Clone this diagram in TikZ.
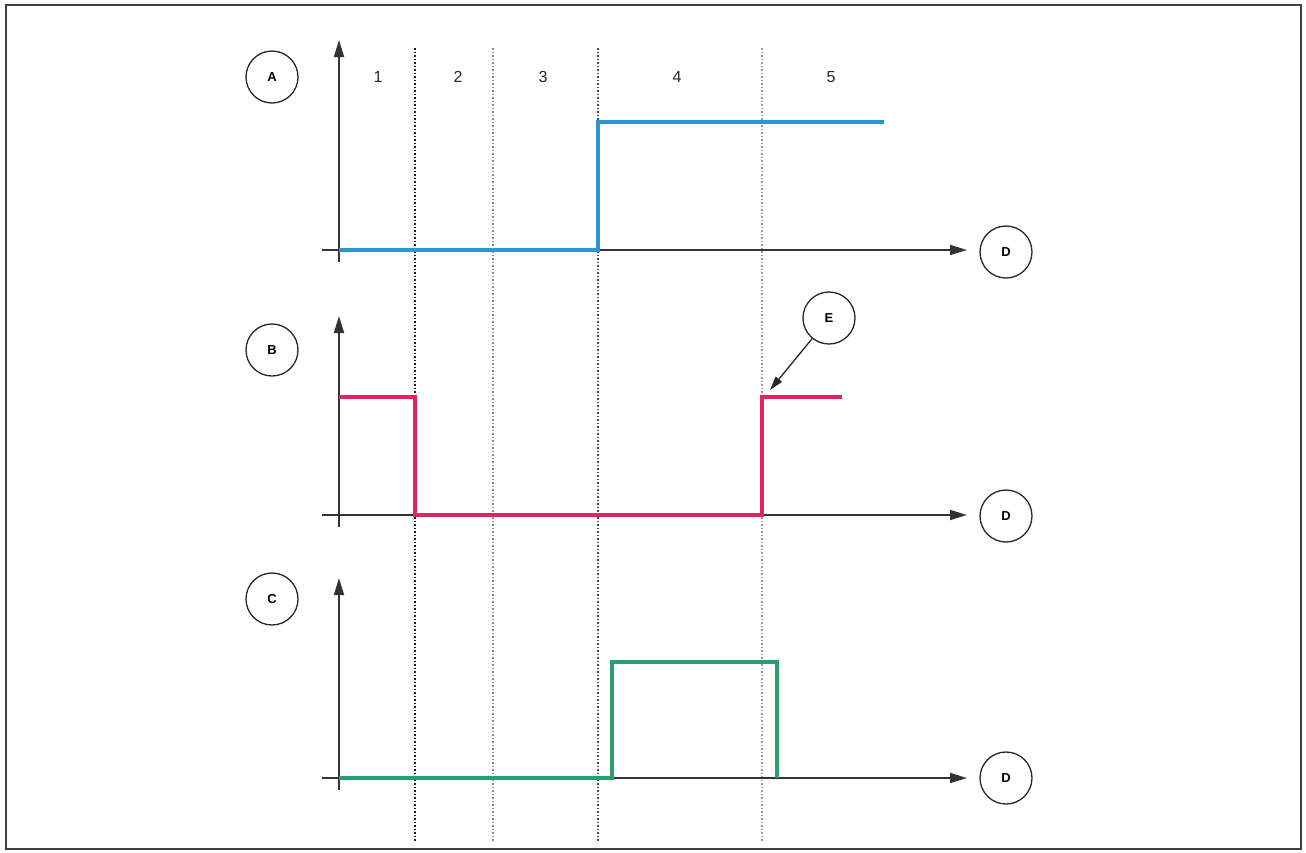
\documentclass[tikz,border=0pt]{standalone}
\usepackage{fontspec}
\setmainfont{Liberation Sans}
\usetikzlibrary{arrows.meta}
\definecolor{sigblue}{RGB}{45,150,210}
\definecolor{sigpink}{RGB}{225,35,95}
\definecolor{siggreen}{RGB}{40,160,110}
\begin{document}
\begin{tikzpicture}[x=1pt,y=-1pt,
  lbl/.style={circle,draw=black!85,line width=1.3pt,minimum size=52pt,inner sep=0pt,font=\fontsize{13}{14}\selectfont\bfseries},
  num/.style={font=\fontsize{16}{17}\selectfont,text=black!85},
  axis/.style={line width=1.8pt,draw=black!80,-{Triangle[length=17pt,width=10pt]}},
  sig/.style={line width=3.2pt,line join=miter},
  sep/.style={line width=1.5pt,dotted}
]
\useasboundingbox (0,0) rectangle (1306,852);
\draw[black!75,line width=2pt] (6,5) rectangle (1301,849);
% separators
\draw[sep,black!90] (415,48) -- (415,842);
\draw[sep,black!45] (493,48) -- (493,842);
\draw[sep,black!70] (598,48) -- (598,842);
\draw[sep,black!40] (762,48) -- (762,842);
% numbers
\node[num] (n1) at (378,77) {1};
\node[num] (n2) at (458,77) {2};
\node[num] (n3) at (543,77) {3};
\node[num] (n4) at (677,77) {4};
\node[num] (n5) at (831,77) {5};
% labels
\node[lbl] (A) at (272,77) {A};
\node[lbl] (B) at (272,350) {B};
\node[lbl] (C) at (272,599) {C};
\node[lbl] (D1) at (1006,252) {D};
\node[lbl] (D2) at (1006,516) {D};
\node[lbl] (D3) at (1006,778) {D};
\node[lbl] (E) at (829,318) {E};
% axes
\coordinate (oA) at (339,250);
\coordinate (oB) at (339,515);
\coordinate (oC) at (339,778);
\draw[axis] (339,262) -- (339,40);
\draw[axis] (322,250) -- (967,250);
\draw[axis] (339,527) -- (339,316);
\draw[axis] (322,515) -- (967,515);
\draw[axis] (339,790) -- (339,578);
\draw[axis] (322,778) -- (967,778);
% signals
\draw[sig,sigblue] (oA) -- (598,250) -- (598,122) -- (884,122);
\draw[sig,sigpink] (339,397) -- (415,397) -- (415,515) -- (762,515) -- (762,397) -- (842,397);
\draw[sig,siggreen] (oC) -- (612,778) -- (612,662) -- (777,662) -- (777,778);
% E pointer
\coordinate (Etip) at (770,390);
\draw[line width=1.3pt,black!85,-{Triangle[length=14pt,width=8pt]}] (E) -- (Etip);
\end{tikzpicture}
\end{document}
